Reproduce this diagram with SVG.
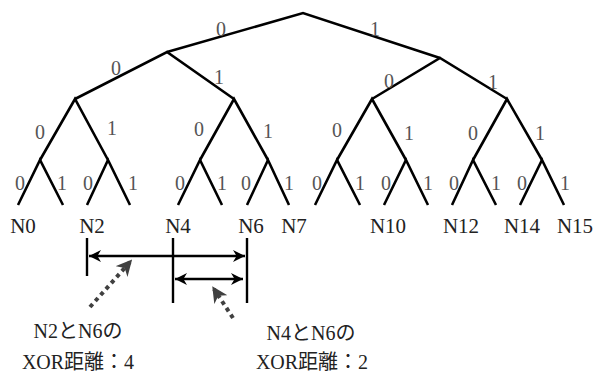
<svg xmlns="http://www.w3.org/2000/svg" width="595" height="373" viewBox="0 0 595 373">
  <style>
    .edge { fill: none; stroke: #000; stroke-width: 2.6; stroke-linejoin: miter; stroke-linecap: butt; }
    .bit { font-family: "Liberation Serif", serif; font-size: 20px; fill: #555; text-anchor: middle; }
    .leaf { font-family: "Liberation Serif", serif; font-size: 21px; fill: #222; text-anchor: middle; }
    .note { font-family: "Liberation Serif", "Noto Sans CJK JP", serif; font-size: 20px; fill: #222; text-anchor: middle; }
    .tick { stroke: #000; stroke-width: 2.4; }
    .span { stroke: #000; stroke-width: 2.4; marker-start: url(#head); marker-end: url(#head); }
    .pointer { stroke: #404040; stroke-width: 4; stroke-dasharray: 4 4; marker-end: url(#ghead); }
  </style>
  <defs>
    <marker id="head" viewBox="0 0 10 10" refX="10" refY="5" markerWidth="5" markerHeight="5" orient="auto-start-reverse" markerUnits="strokeWidth">
      <path d="M0,0 L10,5 L0,10 L3,5 Z" fill="#000"/>
    </marker>
    <marker id="ghead" viewBox="0 0 10 10" refX="8" refY="5" markerWidth="4" markerHeight="4" orient="auto" markerUnits="strokeWidth">
      <path d="M0,0 L10,5 L0,10 L3,5 Z" fill="#404040"/>
    </marker>
  </defs>

  <!-- binary tree edges -->
  <g id="connectors">
    <polyline class="edge" points="167,52 303,13 440,58"/>
    <polyline class="edge" points="75,99 167,52 234,99"/>
    <polyline class="edge" points="372,99 440,58 507,99"/>
    <polyline class="edge" points="40,160 75,99 108,160"/>
    <polyline class="edge" points="200,160 234,99 268,160"/>
    <polyline class="edge" points="337,160 372,99 406,160"/>
    <polyline class="edge" points="473,160 507,99 542,160"/>
    <polyline class="edge" points="18,205 40,160 63,205"/>
    <polyline class="edge" points="87,205 108,160 130,205"/>
    <polyline class="edge" points="178,205 200,160 222,205"/>
    <polyline class="edge" points="247,205 268,160 289,205"/>
    <polyline class="edge" points="315,205 337,160 360,205"/>
    <polyline class="edge" points="384,205 406,160 428,205"/>
    <polyline class="edge" points="452,205 473,160 496,205"/>
    <polyline class="edge" points="520,205 542,160 564,205"/>
  </g>

  <!-- bit labels on edges -->
  <g id="bits">
    <text class="bit" x="221" y="36">0</text>
    <text class="bit" x="375" y="36">1</text>
    <text class="bit" x="116" y="75">0</text>
    <text class="bit" x="219" y="84">1</text>
    <text class="bit" x="389" y="88">0</text>
    <text class="bit" x="493" y="89">1</text>
    <text class="bit" x="40" y="139">0</text>
    <text class="bit" x="112" y="135">1</text>
    <text class="bit" x="199" y="136">0</text>
    <text class="bit" x="268" y="138">1</text>
    <text class="bit" x="337" y="137">0</text>
    <text class="bit" x="409" y="140">1</text>
    <text class="bit" x="473" y="140">0</text>
    <text class="bit" x="540" y="140">1</text>
    <text class="bit" x="20" y="190">0</text>
    <text class="bit" x="62" y="190">1</text>
    <text class="bit" x="88" y="190">0</text>
    <text class="bit" x="133" y="190">1</text>
    <text class="bit" x="180" y="190">0</text>
    <text class="bit" x="222" y="190">1</text>
    <text class="bit" x="246" y="190">0</text>
    <text class="bit" x="289" y="190">1</text>
    <text class="bit" x="317" y="190">0</text>
    <text class="bit" x="360" y="190">1</text>
    <text class="bit" x="386" y="190">0</text>
    <text class="bit" x="428" y="190">1</text>
    <text class="bit" x="454" y="190">0</text>
    <text class="bit" x="496" y="190">1</text>
    <text class="bit" x="522" y="190">0</text>
    <text class="bit" x="565" y="190">1</text>
  </g>

  <!-- leaf nodes -->
  <g id="n0"><text class="leaf" x="23" y="233">N0</text></g>
  <g id="n2"><text class="leaf" x="92" y="233">N2</text></g>
  <g id="n4"><text class="leaf" x="178" y="233">N4</text></g>
  <g id="n6"><text class="leaf" x="251" y="233">N6</text></g>
  <g id="n7"><text class="leaf" x="294" y="233">N7</text></g>
  <g id="n10"><text class="leaf" x="388" y="233">N10</text></g>
  <g id="n12"><text class="leaf" x="461" y="233">N12</text></g>
  <g id="n14"><text class="leaf" x="522" y="233">N14</text></g>
  <g id="n15"><text class="leaf" x="575" y="233">N15</text></g>

  <!-- distance brackets -->
  <g id="distances">
    <line class="tick" x1="87" y1="238" x2="87" y2="276"/>
    <line class="tick" x1="173" y1="238" x2="173" y2="303"/>
    <line class="tick" x1="247" y1="238" x2="247" y2="303"/>
    <line class="span" x1="89" y1="256" x2="245" y2="256"/>
    <line class="span" x1="175" y1="279" x2="243" y2="279"/>
  </g>

  <!-- annotation pointers -->
  <g id="pointers">
    <line class="pointer" x1="90" y1="307" x2="130" y2="262"/>
    <line class="pointer" x1="233" y1="318" x2="214" y2="289"/>
  </g>

  <g id="note-n2-n6">
    <text class="note" x="78" y="338">N2とN6の</text>
    <text class="note" x="78" y="369">XOR距離：4</text>
  </g>
  <g id="note-n4-n6">
    <text class="note" x="311" y="340">N4とN6の</text>
    <text class="note" x="312" y="369">XOR距離：2</text>
  </g>
</svg>
